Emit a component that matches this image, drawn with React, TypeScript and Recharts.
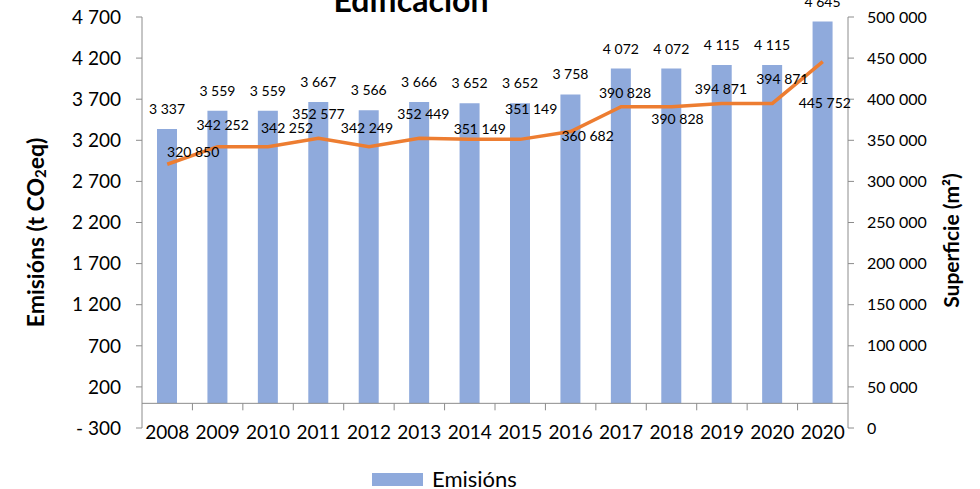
import React from 'react';
import {
  ComposedChart,
  Bar,
  Line,
  XAxis,
  YAxis,
  Legend,
  LabelList,
  ReferenceLine,
} from 'recharts';

const BAR_BLUE = '#8FAADC';
const ORANGE = '#ED7D31';
const AXIS_GREY = '#8C8C8C';
const FONT = 'Lato, "Open Sans", sans-serif';

const YEARS = ['2008', '2009', '2010', '2011', '2012', '2013', '2014', '2015', '2016', '2017', '2018', '2019', '2020', '2020'];
const EMISIONS = [3337, 3559, 3559, 3667, 3566, 3666, 3652, 3652, 3758, 4072, 4072, 4115, 4115, 4645];
const SUPERFICIE = [320850, 342252, 342252, 352577, 342249, 352449, 351149, 351149, 360682, 390828, 390828, 394871, 394871, 445752];
const LEFT_TICKS = [-300, 200, 700, 1200, 1700, 2200, 2700, 3200, 3700, 4200, 4700];
const RIGHT_TICKS = [0, 50000, 100000, 150000, 200000, 250000, 300000, 350000, 400000, 450000, 500000];

// where Excel put each line label, relative to its point (px)
const LINE_LABEL_OFFSETS: [number, number][] = [
  [26, -13], [5, -22], [19, -19], [0, -25], [-2, -19], [4, -25], [10, -11],
  [11, -31], [17, 4], [4, -14], [6, 12], [-1, -15], [10, -25], [2, 41],
];
// category tick length, in left-axis units
const CAT_TICK = 85;

const data = YEARS.map((year, i) => ({
  idx: i,
  year,
  emisions: EMISIONS[i],
  superficie: SUPERFICIE[i],
}));

const fmt = (v: number) => {
  const s = String(Math.abs(v)).replace(/\B(?=(\d{3})+(?!\d))/g, ' ');
  return v < 0 ? `- ${s}` : s;
};

const LeftTitle = (props: any) => {
  const { viewBox } = props;
  const cx = viewBox.x + 35;
  const cy = viewBox.y + viewBox.height / 2 + 10;
  return (
    <text
      x={cx}
      y={cy}
      transform={`rotate(-90 ${cx} ${cy})`}
      textAnchor="middle"
      dominantBaseline="central"
      fontFamily={FONT}
      fontWeight="bold"
      fontSize={23}
      fill="#000"
    >
      Emisións (t CO
      <tspan fontSize={15} dy={5}>2</tspan>
      <tspan dy={-5}>eq)</tspan>
    </text>
  );
};

const RightTitle = (props: any) => {
  const { viewBox } = props;
  const cx = viewBox.x + 102;
  const cy = viewBox.y + viewBox.height / 2 + 18;
  return (
    <text
      x={cx}
      y={cy}
      transform={`rotate(-90 ${cx} ${cy})`}
      textAnchor="middle"
      dominantBaseline="central"
      fontFamily={FONT}
      fontWeight="bold"
      fontSize={21}
      fill="#000"
    >
      Superficie (m²)
    </text>
  );
};

const YearTick = (props: any) => {
  const { x, y, payload } = props;
  return (
    <text x={x} y={y - 12} textAnchor="middle" dominantBaseline="hanging" fontFamily={FONT} fontSize={19} fill="#000">
      {YEARS[payload.value]}
    </text>
  );
};

const BarLabel = (props: any) => {
  const { x, y, width, value } = props;
  return (
    <text x={x + width / 2} y={y - 15} textAnchor="middle" fontFamily={FONT} fontSize={14} fill="#000">
      {fmt(value)}
    </text>
  );
};

const LineLabel = (props: any) => {
  const { x, y, value, index } = props;
  const [dx, dy] = LINE_LABEL_OFFSETS[index] || [0, -15];
  return (
    <text x={x + dx} y={y + dy} textAnchor="middle" dominantBaseline="central" fontFamily={FONT} fontSize={14} fill="#000">
      {fmt(value)}
    </text>
  );
};

const LegendBox = () => (
  <div style={{ height: 24, display: 'flex', alignItems: 'center', paddingLeft: 372, paddingTop: 4, boxSizing: 'border-box', fontFamily: FONT }}>
    <span style={{ display: 'inline-block', width: 51, height: 13, background: BAR_BLUE }} />
    <span style={{ fontSize: 22, marginLeft: 9, color: '#000', lineHeight: '20px' }}>Emisións</span>
  </div>
);

export default function App() {
  return (
    <div style={{ position: 'absolute', left: 0, top: 0, width: 980, height: 489, background: '#fff' }}>
      <ComposedChart width={980} height={489} data={data} margin={{ top: 17, right: 0, bottom: 0, left: 0 }}>
        <XAxis
          xAxisId="cat"
          dataKey="idx"
          type="number"
          domain={[-0.5, 13.5]}
          ticks={YEARS.map((_, i) => i)}
          interval={0}
          axisLine={false}
          tickLine={false}
          height={37}
          tick={<YearTick />}
        />
        <YAxis
          yAxisId="left"
          orientation="left"
          width={142}
          domain={[-300, 4700]}
          ticks={LEFT_TICKS}
          interval={0}
          tickFormatter={fmt}
          tick={{ fontFamily: FONT, fontSize: 19, fill: '#000' }}
          tickSize={6}
          tickMargin={15}
          stroke={AXIS_GREY}
          label={<LeftTitle />}
        />
        <YAxis
          yAxisId="right"
          orientation="right"
          width={132}
          domain={[0, 500000]}
          ticks={RIGHT_TICKS}
          interval={0}
          tickFormatter={fmt}
          tick={{ fontFamily: FONT, fontSize: 16, fill: '#000' }}
          tickSize={6}
          tickMargin={13}
          stroke={AXIS_GREY}
          label={<RightTitle />}
        />
        <Legend verticalAlign="bottom" wrapperStyle={{ left: 0, width: 980 }} content={<LegendBox />} />
        <ReferenceLine xAxisId="cat" yAxisId="left" y={0} stroke={AXIS_GREY} strokeWidth={1} />
        {YEARS.slice(1).map((_, i) => (
          <ReferenceLine
            key={`ct-${i}`}
            xAxisId="cat"
            yAxisId="left"
            segment={[{ x: i + 0.5, y: 0 }, { x: i + 0.5, y: -CAT_TICK }]}
            stroke={AXIS_GREY}
          />
        ))}
        <Bar xAxisId="cat" yAxisId="left" dataKey="emisions" name="Emisións" fill={BAR_BLUE} barSize={20} isAnimationActive={false}>
          <LabelList dataKey="emisions" content={<BarLabel />} />
        </Bar>
        <Line
          xAxisId="cat"
          yAxisId="right"
          dataKey="superficie"
          name="Superficie"
          stroke={ORANGE}
          strokeWidth={3.5}
          dot={false}
          isAnimationActive={false}
        >
          <LabelList dataKey="superficie" content={<LineLabel />} />
        </Line>
      </ComposedChart>
      <svg width={980} height={40} style={{ position: 'absolute', left: 0, top: 0, pointerEvents: 'none' }}>
        <text x={411} y={12} textAnchor="middle" fontFamily={FONT} fontWeight="bold" fontSize={32} fill="#000">
          Edificación
        </text>
      </svg>
    </div>
  );
}
